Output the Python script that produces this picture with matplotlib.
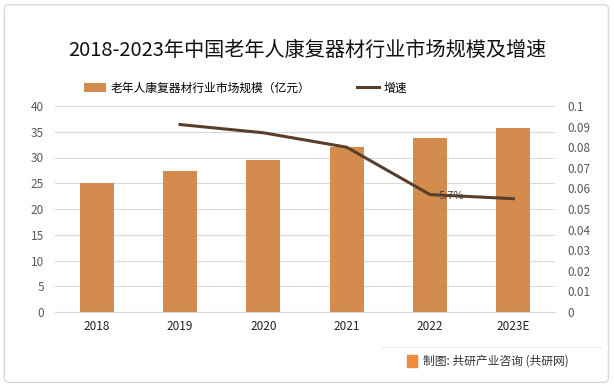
import matplotlib
matplotlib.use("Agg")
import matplotlib.pyplot as plt
from matplotlib.patches import FancyBboxPatch, Rectangle

plt.rcParams['font.family'] = ['Noto Sans CJK SC', 'DejaVu Sans']

# Data
years = ["2018", "2019", "2020", "2021", "2022", "2023E"]
market_size = [25.0, 27.3, 29.6, 32.0, 33.8, 35.7]
growth_years = ["2019", "2020", "2021", "2022", "2023E"]
growth = [0.091, 0.087, 0.080, 0.057, 0.055]
right_ticks = [0, 0.01, 0.02, 0.03, 0.04, 0.05, 0.06, 0.07, 0.08, 0.09, 0.1]
right_labels = ["0", "0.01", "0.02", "0.03", "0.04", "0.05", "0.06", "0.07", "0.08", "0.09", "0.1"]

bar_color = "#D48B4E"
line_color = "#5B3E28"
tick_color = "#595959"

fig = plt.figure(figsize=(6.14, 3.87), dpi=100)

# outer frame
frame = FancyBboxPatch((0.007, 0.012), 0.984, 0.976, boxstyle="round,pad=0,rounding_size=0.01",
                       transform=fig.transFigure, fill=False, edgecolor="#D9D9D9", linewidth=1)
fig.patches.append(frame)

ax = fig.add_axes([55 / 614, 1 - 312 / 387, 500 / 614, 206 / 387])
x = list(range(len(years)))
ax.bar(x, market_size, width=0.41, color=bar_color, zorder=2, label="老年人康复器材行业市场规模（亿元）")
ax.set_xlim(-0.5, len(years) - 0.5)
ax.set_ylim(0, 40)
ax.set_yticks(range(0, 41, 5))
ax.grid(axis="y", color="#D9D9D9", linewidth=0.8, zorder=0)
ax.set_xticks(x)
ax.set_xticklabels(years, fontsize=8.5, color="#222222")
ax.tick_params(axis="y", labelsize=8.5, labelcolor=tick_color, length=0, pad=8)
ax.tick_params(axis="x", length=0, pad=6)
for s in ax.spines.values():
    s.set_visible(False)
ax.spines["bottom"].set_visible(True)
ax.spines["bottom"].set_color("#D9D9D9")

ax2 = ax.twinx()
gx = [years.index(y) for y in growth_years]
ax2.plot(gx, growth, color=line_color, linewidth=2.2, zorder=3, label="增速")
ax2.set_ylim(0, 0.1)
ax2.set_yticks(right_ticks)
ax2.set_yticklabels(right_labels)
ax2.tick_params(axis="y", labelsize=8.5, labelcolor=tick_color, length=0, pad=9)
for s in ax2.spines.values():
    s.set_visible(False)
i22 = growth_years.index("2022")
ax2.annotate("5.7%", (gx[i22], growth[i22]), xytext=(6, -1), textcoords="offset points",
             fontsize=8, color="#404040", va="center", ha="left")

fig.text(0.5, 1 - 50 / 387, "2018-2023年中国老年人康复器材行业市场规模及增速",
         ha="center", va="center", fontsize=14.5, color="#111111")

h1, l1 = ax.get_legend_handles_labels()
h2, l2 = ax2.get_legend_handles_labels()
fig.legend(h1 + h2, l1 + l2, loc="center", bbox_to_anchor=(0.4, 1 - 88 / 387), ncol=2,
           frameon=False, fontsize=8.5, handlelength=1.8, handleheight=0.7,
           columnspacing=4, handletextpad=0.4)

# footer
fig.add_artist(plt.Line2D([0.62, 0.98], [1 - 347 / 387] * 2, color="#EEEEEE", linewidth=0.8,
                          transform=fig.transFigure))
fig.patches.append(Rectangle((407 / 614, 1 - 367 / 387), 10 / 614, 12 / 387, color="#F08A3C",
                             transform=fig.transFigure))
fig.text(423 / 614, 1 - 361 / 387, "制图: 共研产业咨询 (共研网)", ha="left", va="center",
         fontsize=8.5, color="#333333")

fig.savefig("out.png", dpi=100)
